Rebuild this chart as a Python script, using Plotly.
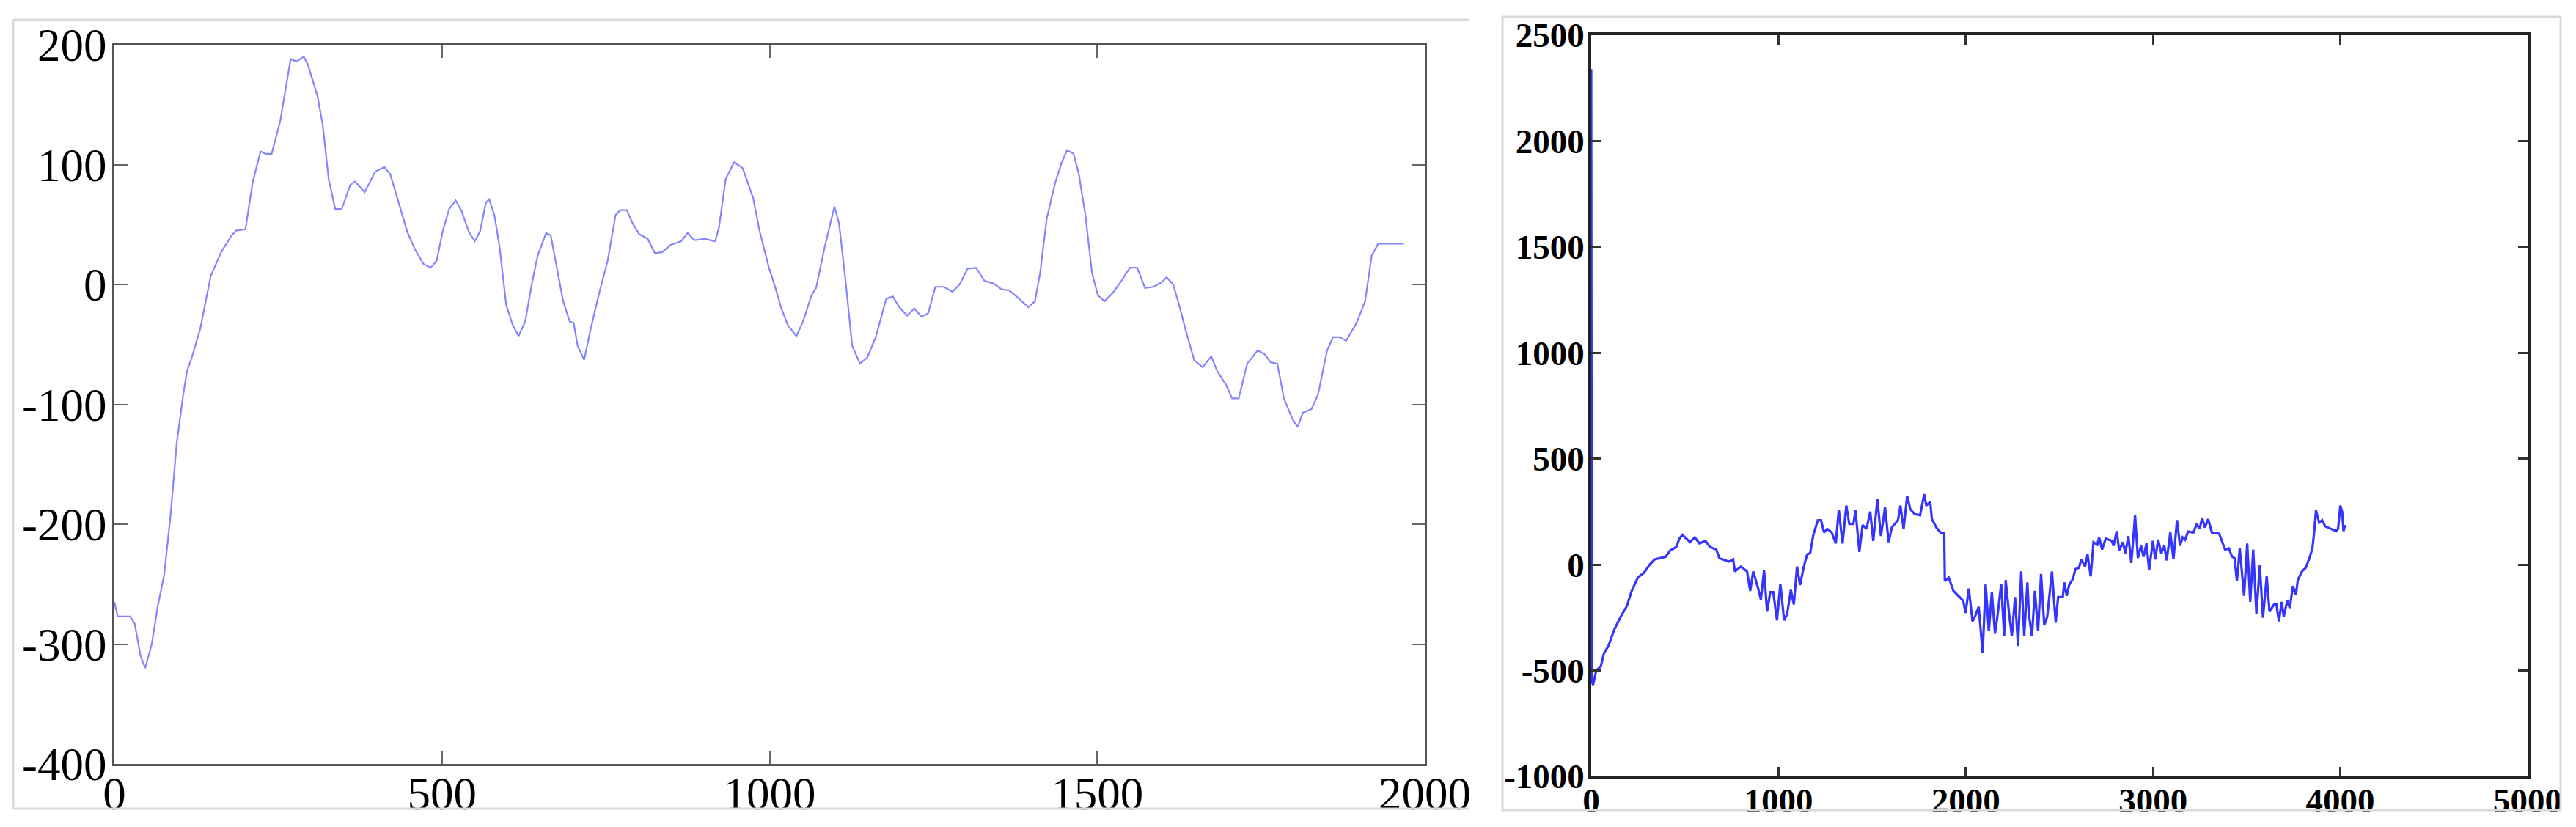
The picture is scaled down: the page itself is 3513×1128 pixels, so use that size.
import plotly.graph_objects as go

# ---------------- data ----------------
left_x = [0, 5, 24, 31, 40, 47, 57, 66, 76, 86, 95, 105, 111, 118, 131, 137, 147, 163, 179, 186, 200,
          211, 223, 231, 240, 253, 263, 269, 278, 289, 295, 310, 318, 327, 337, 347, 360, 367, 382, 398,
          412, 421, 434, 447, 459, 472, 483, 492, 501, 511, 521, 530, 541, 550, 558, 567, 572, 580, 588,
          598, 608, 617, 627, 637, 646, 659, 666, 675, 685, 695, 701, 707, 717, 727, 740, 753, 765, 772,
          782, 791, 801, 814, 825, 836, 849, 865, 875, 885, 901, 917, 923, 933, 946, 959, 975, 985, 999,
          1009, 1018, 1028, 1041, 1051, 1064, 1071, 1084, 1099, 1106, 1116, 1126, 1138, 1149, 1162, 1178,
          1188, 1198, 1210, 1221, 1232, 1242, 1253, 1266, 1279, 1290, 1302, 1315, 1328, 1341, 1354, 1366,
          1381, 1395, 1405, 1413, 1423, 1436, 1446, 1454, 1464, 1472, 1482, 1492, 1501, 1511, 1524, 1537,
          1550, 1561, 1573, 1586, 1599, 1606, 1616, 1625, 1635, 1648, 1661, 1674, 1683, 1697, 1706, 1716,
          1729, 1745, 1755, 1765, 1775, 1785, 1798, 1806, 1814, 1827, 1837, 1851, 1860, 1870, 1880, 1896,
          1909, 1919, 1929, 1968]
left_y = [-265, -277, -277, -283, -310, -320, -300, -269, -242, -191, -133, -92, -72, -61, -37, -20, 7, 27,
          41, 45, 46, 85, 111, 109, 109, 136, 167, 188, 186, 190, 184, 157, 133, 88, 63, 63, 83, 86, 77,
          94, 98, 92, 68, 44, 29, 17, 14, 20, 44, 63, 70, 61, 44, 36, 44, 68, 71, 58, 31, -17, -34, -43,
          -31, 0, 24, 43, 41, 14, -14, -31, -32, -51, -63, -37, -7, 20, 58, 62, 62, 51, 42, 38, 26, 27, 33,
          36, 43, 37, 38, 36, 48, 88, 102, 97, 72, 44, 14, -3, -20, -34, -43, -31, -9, -3, 31, 65, 51, 3,
          -51, -66, -61, -44, -12, -10, -19, -26, -20, -27, -24, -2, -2, -6, 0, 13, 14, 3, 1, -4, -5, -12,
          -19, -14, 10, 55, 85, 102, 112, 109, 92, 58, 10, -9, -14, -7, 3, 14, 14, -3, -2, 2, 6, 0, -17,
          -38, -63, -69, -60, -72, -84, -95, -95, -66, -55, -58, -65, -66, -95, -112, -119, -107, -104, -92,
          -55, -44, -44, -47, -32, -14, 24, 34, 34]

right_x = [0, 3, 10, 27, 51, 68, 92, 125, 158, 191, 216, 249, 282, 314, 339, 397, 421, 454, 471, 487, 528,
           553, 578, 610, 635, 668, 684, 734, 758, 767, 799, 832, 849, 865, 890, 906, 923, 939, 956, 972,
           992, 1010, 1030, 1046, 1066, 1082, 1099, 1115, 1137, 1153, 1169, 1186, 1210, 1227, 1243, 1260,
           1284, 1306, 1322, 1342, 1362, 1378, 1400, 1411, 1432, 1449, 1470, 1490, 1506, 1528, 1547, 1569,
           1588, 1605, 1638, 1651, 1668, 1687, 1704, 1728, 1756, 1778, 1789, 1810, 1819, 1843, 1865, 1885,
           1888, 1909, 1934, 1967, 1986, 1999, 2016, 2036, 2052, 2069, 2090, 2106, 2123, 2139, 2156, 2172,
           2189, 2205, 2213, 2230, 2246, 2263, 2279, 2296, 2312, 2329, 2337, 2353, 2369, 2386, 2402, 2419,
           2435, 2460, 2480, 2493, 2518, 2526, 2539, 2552, 2572, 2585, 2604, 2617, 2637, 2650, 2667, 2682,
           2702, 2712, 2728, 2747, 2780, 2789, 2806, 2819, 2839, 2852, 2868, 2884, 2904, 2919, 2936, 2949,
           2965, 2979, 2999, 3012, 3027, 3044, 3060, 3073, 3092, 3109, 3128, 3144, 3158, 3171, 3187, 3216,
           3233, 3249, 3262, 3277, 3294, 3314, 3353, 3370, 3385, 3405, 3422, 3435, 3448, 3463, 3486, 3503,
           3519, 3535, 3552, 3570, 3587, 3607, 3622, 3646, 3659, 3672, 3687, 3698, 3717, 3730, 3747, 3763,
           3773, 3795, 3815, 3835, 3851, 3861, 3870, 3887, 3903, 3919, 3945, 3978, 3988, 4000, 4010, 4017,
           4026]
right_y = [2340, -550, -568, -499, -481, -418, -384, -303, -245, -194, -124, -61, -38, 2, 25, 37, 66, 83, 123,
           140, 106, 129, 100, 112, 83, 71, 31, 14, 25, -32, -9, -32, -124, -32, -107, -165, -26, -222, -130,
           -130, -263, -90, -263, -234, -119, -188, -9, -96, -3, 48, 54, 140, 210, 210, 152, 169, 152, 100,
           259, 100, 279, 192, 192, 256, 60, 187, 169, 250, 112, 308, 135, 272, 106, 175, 210, 279, 169, 325,
           261, 238, 233, 333, 279, 296, 215, 175, 152, 149, -78, -61, -124, -153, -170, -228, -113, -268,
           -240, -199, -418, -90, -314, -130, -326, -222, -90, -338, -73, -222, -338, -153, -384, -32, -338,
           -84, -234, -338, -124, -314, -44, -286, -245, -32, -274, -153, -153, -84, -147, -96, -67, -21, -15,
           25, -9, 48, -55, 106, 94, 129, 71, 123, 112, 89, 158, 66, 106, 54, 135, 8, 233, 31, 89, 37, 100,
           -26, 112, 25, 118, 54, 89, 20, 152, 25, 210, 89, 129, 118, 156, 152, 192, 169, 221, 175, 215, 152,
           146, 106, 71, 77, 37, 31, -78, 77, -147, 100, -176, 71, -234, -3, -251, -55, -222, -188, -188,
           -268, -176, -245, -170, -205, -101, -142, -73, -32, -15, 31, 77, 158, 256, 198, 210, 181, 172, 158,
           169, 279, 250, 158, 187]

left_xticks = [0, 500, 1000, 1500, 2000]
left_xtext = ["0", "500", "1000", "1500", "2000"]
left_yticks = [-400, -300, -200, -100, 0, 100, 200]
left_ytext = ["-400", "-300", "-200", "-100", "0", "100", "200"]
right_xticks = [0, 1000, 2000, 3000, 4000, 5000]
right_xtext = ["0", "1000", "2000", "3000", "4000", "5000"]
right_yticks = [-1000, -500, 0, 500, 1000, 1500, 2000, 2500]
right_ytext = ["-1000", "-500", "0", "500", "1000", "1500", "2000", "2500"]

# ---------------- figure ----------------
W, H = 3513, 1128
SERIF = "Liberation Serif, Times New Roman, serif"

fig = go.Figure()
fig.add_trace(go.Scatter(x=left_x, y=left_y, mode="lines",
                         line=dict(color="#8585ff", width=2.2), xaxis="x", yaxis="y",
                         showlegend=False, hoverinfo="skip"))
fig.add_trace(go.Scatter(x=right_x, y=right_y, mode="lines",
                         line=dict(color="#3535ff", width=3.2), xaxis="x2", yaxis="y2",
                         showlegend=False, hoverinfo="skip"))


def px_x(p):
    return p / W


def px_y(p):
    return 1 - p / H


left_ax = dict(showgrid=False, zeroline=False, showline=True, linecolor="#555555", linewidth=3,
               mirror="allticks", ticks="inside", ticklen=18, tickwidth=2, tickcolor="#666666",
               automargin=False,
               tickfont=dict(family=SERIF, size=63, color="black"))
right_ax = dict(showgrid=False, zeroline=False, showline=True, linecolor="#222222", linewidth=3.5,
                mirror="allticks", ticks="inside", ticklen=13, tickwidth=2.5, tickcolor="#333333",
                automargin=False,
                tickfont=dict(family=SERIF, size=47, color="black", weight="bold"))

fig.update_layout(
    width=W, height=H, margin=dict(l=0, r=0, t=0, b=0, autoexpand=False),
    paper_bgcolor="white", plot_bgcolor="white",
    xaxis=dict(left_ax, domain=[px_x(156), px_x(1943)], range=[0, 2000],
               tickvals=left_xticks, ticktext=left_xtext, anchor="y", ticklabelstandoff=-17),
    yaxis=dict(left_ax, domain=[px_y(1042), px_y(61)], range=[-400, 200],
               tickvals=left_yticks, ticktext=left_ytext, anchor="x", ticklabelstandoff=-5),
    xaxis2=dict(right_ax, domain=[px_x(2170), px_x(3447)], range=[0, 5000],
                tickvals=right_xticks, ticktext=right_xtext, anchor="y2", ticklabelstandoff=-11),
    yaxis2=dict(right_ax, domain=[px_y(1059), px_y(48)], range=[-1000, 2500],
                tickvals=right_yticks, ticktext=right_ytext, anchor="x2", ticklabelstandoff=-4),
)

frame = dict(color="#d9d9d9", width=3)
shapes = [
    # left outer frame (top, left, bottom)
    dict(type="line", xref="paper", yref="paper", x0=px_x(18), x1=px_x(2003), y0=px_y(27), y1=px_y(27), line=frame),
    dict(type="line", xref="paper", yref="paper", x0=px_x(18), x1=px_x(18), y0=px_y(27), y1=px_y(1103), line=frame),
    dict(type="line", xref="paper", yref="paper", x0=px_x(18), x1=px_x(2003), y0=px_y(1103), y1=px_y(1103), line=frame),
    # right outer frame
    dict(type="rect", xref="paper", yref="paper", x0=px_x(2049), x1=px_x(3492), y0=px_y(1105), y1=px_y(23), line=frame),
]
fig.update_layout(shapes=shapes)

fig.write_html("out.html", config={"displayModeBar": False},
               post_script="document.body.style.margin='0px';document.body.style.overflow='hidden';")
